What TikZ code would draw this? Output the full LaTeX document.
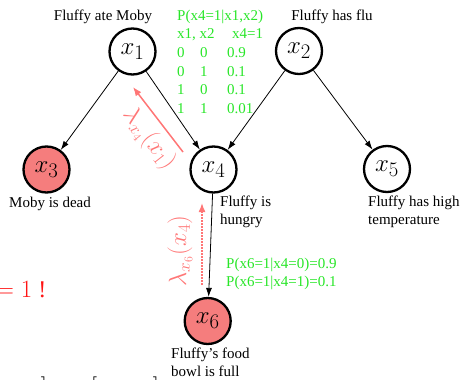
\documentclass[tikz,border=0pt]{standalone}
\usepackage{fontspec}
\setmainfont{Liberation Serif}
\usetikzlibrary{arrows.meta}
\definecolor{nodered}{RGB}{245,125,125}
\definecolor{msgred}{RGB}{255,118,118}
\definecolor{tabgreen}{RGB}{40,230,40}
\definecolor{warnred}{RGB}{255,20,20}
\begin{document}
\begin{tikzpicture}[x=1pt,y=-1pt,
  var/.style={circle,draw=black,line width=2.3pt,minimum size=46pt,inner sep=0pt,font=\fontsize{29}{32}\selectfont},
  obs/.style={var,fill=nodered},
  edge/.style={-{Latex[length=9pt,width=6pt]},line width=0.8pt},
  lab/.style={font=\fontsize{15}{19}\selectfont,inner sep=0pt,anchor=base west},
  tab/.style={lab,text=tabgreen},
  msg/.style={text=msgred,font=\fontsize{23}{26}\selectfont,inner sep=0pt},
  msgarrow/.style={draw=msgred,line width=1.5pt,-{Latex[length=9pt,width=7pt]}},
  brk/.style={font=\fontsize{24}{24}\selectfont,inner sep=0pt,anchor=north}]
\useasboundingbox (0,0) rectangle (463,380);
\clip (0,0) rectangle (463,380);
% variables
\node[var] (x1) at (132.5,51.5) {$x_1$};
\node[var] (x2) at (299,51) {$x_2$};
\node[obs] (x3) at (46.5,169.5) {$x_3$};
\node[var] (x4) at (213.5,169.5) {$x_4$};
\node[var] (x5) at (387,169) {$x_5$};
\node[obs] (x6) at (207.7,321) {$x_6$};
% edges
\draw[edge] (x1) -- (x3);
\draw[edge] (x1) -- (x4);
\draw[edge] (x2) -- (x4);
\draw[edge] (x2) -- (x5);
\draw[edge] (x4) -- (x6);
% labels
\node[lab,anchor=base] (t1) at (103,20) {Fluffy ate Moby};
\node[lab,anchor=base] (t2) at (332,20) {Fluffy has flu};
\node[lab,anchor=base] (t3) at (50,207) {Moby is dead};
\node[lab] (t4a) at (220,206) {Fluffy is};
\node[lab] (t4b) at (220,224.5) {hungry};
\node[lab] (t5a) at (368,206) {Fluffy has high};
\node[lab] (t5b) at (368,224.5) {temperature};
\node[lab] (t6a) at (171,358) {Fluffy's food};
\node[lab] (t6b) at (171,376.5) {bowl is full};
% CPT of x4
\node[tab] (c0) at (177,20) {P(x4=1|x1,x2)};
\node[tab] (c1) at (177,38.7) {\makebox[55pt][l]{x1, x2}x4=1};
\node[tab] (c2) at (177,57.4) {\makebox[23pt][l]{0}\makebox[27pt][l]{0}0.9};
\node[tab] (c3) at (177,76.1) {\makebox[23pt][l]{0}\makebox[27pt][l]{1}0.1};
\node[tab] (c4) at (177,94.8) {\makebox[23pt][l]{1}\makebox[27pt][l]{0}0.1};
\node[tab] (c5) at (177,113.5) {\makebox[23pt][l]{1}\makebox[27pt][l]{1}0.01};
% CPT of x6
\node[tab] (d1) at (226,268.3) {P(x6=1|x4=0)=0.9};
\node[tab] (d2) at (226,286.3) {P(x6=1|x4=1)=0.1};
% messages
\coordinate (m1s) at (183,152);
\coordinate (m1e) at (133,87);
\draw[msgarrow] (m1s) -- (m1e);
\node[msg,rotate=-52] (m1) at (149,139) {$\lambda_{x_4}(x_1)$};
\coordinate (m2s) at (202,285);
\coordinate (m2e) at (202,203);
\draw[msgarrow,dash pattern=on 2pt off 1pt] (m2s) -- (m2e);
\node[msg,rotate=90] (m2) at (180,251) {$\lambda_{x_6}(x_4)$};
% clipped fragments
\node[text=warnred,font=\fontsize{24}{28}\selectfont,inner sep=0pt,anchor=base west] (w) at (-4,297) {$=1$ !};
\node[brk] (b1) at (44,377) {$]$};
\node[brk] (b2) at (94,377) {$[$};
\node[brk] (b3) at (156,377) {$]$};
\end{tikzpicture}
\end{document}
